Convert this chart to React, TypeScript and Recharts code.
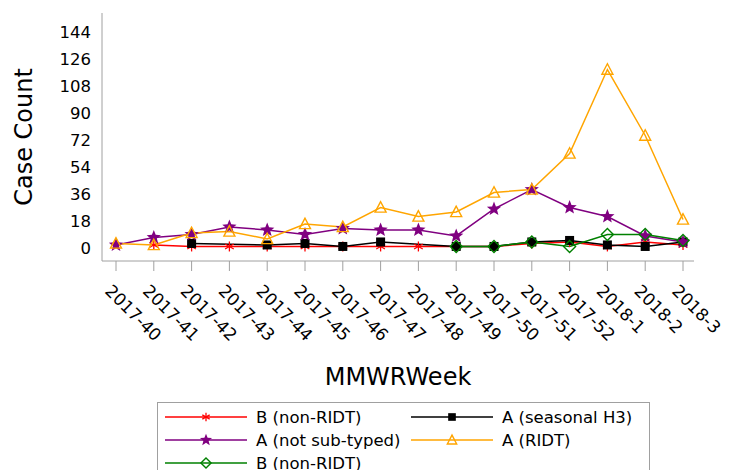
import { LineChart, Line, XAxis, YAxis } from 'recharts';

const weeks = [
  '2017-40', '2017-41', '2017-42', '2017-43', '2017-44', '2017-45', '2017-46', '2017-47',
  '2017-48', '2017-49', '2017-50', '2017-51', '2017-52', '2018-1', '2018-2', '2018-3',
];

// case counts per week
const bNonRidt = [null, 2, 1, 1, 1, 1, 1, 1, 1, 1, 1, 3, 4, 1, 4, 2];
const aSeasonalH3 = [null, null, 3, null, 2, 3, 1, 4, null, 1, 1, 4, 5, 2, 1, 4];
const aNotSubtyped = [2, 7, 9, 14, 12, 9, 13, 12, 12, 8, 26, 39, 27, 21, 8, 4];
const aRidt = [3, 2, 10, 11, 6, 16, 14, 27, 21, 24, 37, 39, 63, 119, 75, 19];
const bNonRidt2 = [null, null, null, null, null, null, null, null, null, 1, 1, 4, 1, 9, 9, 5];

const yTicks = [0, 18, 36, 54, 72, 90, 108, 126, 144];

const FONT = '"DejaVu Sans", sans-serif';
const FRAME = '#a0a0a0';

const series = [
  { key: 'bNonRidt', name: 'B (non-RIDT)', color: '#ff0000', marker: 'asterisk', values: bNonRidt },
  { key: 'aSeasonalH3', name: 'A (seasonal H3)', color: '#000000', marker: 'square', values: aSeasonalH3 },
  { key: 'aNotSubtyped', name: 'A (not sub-typed)', color: '#800080', marker: 'star', values: aNotSubtyped },
  { key: 'aRidt', name: 'A (RIDT)', color: '#ffa500', marker: 'triangle', values: aRidt },
  { key: 'bNonRidt2', name: 'B (non-RIDT)', color: '#008000', marker: 'diamond', values: bNonRidt2 },
];

const data = weeks.map((week, i) => {
  const row: Record<string, string | number | null> = { week };
  series.forEach((s) => {
    row[s.key] = s.values[i];
  });
  return row;
});

function starPoints(cx: number, cy: number, outer: number, inner: number) {
  const pts: string[] = [];
  for (let i = 0; i < 10; i++) {
    const r = i % 2 === 0 ? outer : inner;
    const a = -Math.PI / 2 + (i * Math.PI) / 5;
    pts.push(`${cx + r * Math.cos(a)},${cy + r * Math.sin(a)}`);
  }
  return pts.join(' ');
}

function marker(type: string, cx: number, cy: number, color: string, s = 1, key?: any) {
  switch (type) {
    case 'asterisk': {
      const r = 5 * s;
      const dx = r * Math.cos(Math.PI / 6);
      const dy = r * Math.sin(Math.PI / 6);
      return (
        <g key={key} stroke={color} strokeWidth={1.3}>
          <line x1={cx} y1={cy - r} x2={cx} y2={cy + r} />
          <line x1={cx - dx} y1={cy - dy} x2={cx + dx} y2={cy + dy} />
          <line x1={cx - dx} y1={cy + dy} x2={cx + dx} y2={cy - dy} />
        </g>
      );
    }
    case 'square': {
      const h = 4.5 * s;
      return <rect key={key} x={cx - h} y={cy - h} width={2 * h} height={2 * h} fill={color} />;
    }
    case 'star':
      return <polygon key={key} points={starPoints(cx, cy, 7.5 * s, 3.2 * s)} fill={color} />;
    case 'triangle': {
      const h = 5.5 * s;
      return (
        <polygon
          key={key}
          points={`${cx},${cy - h * 1.05} ${cx - h},${cy + h * 0.85} ${cx + h},${cy + h * 0.85}`}
          fill="none"
          stroke={color}
          strokeWidth={1.4}
        />
      );
    }
    case 'diamond': {
      const h = 6 * s;
      return (
        <polygon
          key={key}
          points={`${cx},${cy - h} ${cx + h},${cy} ${cx},${cy + h} ${cx - h},${cy}`}
          fill="none"
          stroke={color}
          strokeWidth={1.4}
        />
      );
    }
    default:
      return <g key={key} />;
  }
}

const WeekTick = (props: any) => {
  const { x, y, payload } = props;
  const ax = x - 12;
  const ay = y + 19;
  return (
    <text
      x={ax}
      y={ay}
      transform={`rotate(45, ${ax}, ${ay})`}
      textAnchor="start"
      fontSize={17}
      fontFamily={FONT}
      fill="#000"
    >
      {payload.value}
    </text>
  );
};

function Legend() {
  return (
    <div
      style={{
        position: 'absolute',
        left: 157,
        top: 402,
        width: 493,
        height: 90,
        border: `1px solid ${FRAME}`,
        boxSizing: 'border-box',
        fontFamily: FONT,
        fontSize: 16.5,
      }}
    >
      {series.map((s, i) => {
        const col = i % 2;
        const row = Math.floor(i / 2);
        return (
          <div
            key={s.key}
            style={{
              position: 'absolute',
              left: col === 0 ? 6 : 252,
              top: 3 + row * 23,
              height: 22,
              display: 'flex',
              alignItems: 'center',
              whiteSpace: 'nowrap',
            }}
          >
            <svg width={84} height={22} style={{ display: 'block' }}>
              <line x1={1} y1={11} x2={83} y2={11} stroke={s.color} strokeWidth={1.3} />
              {marker(s.marker, 42, 11, s.color, 0.85)}
            </svg>
            <span style={{ marginLeft: 8 }}>{s.name}</span>
          </div>
        );
      })}
    </div>
  );
}

export default function App() {
  return (
    <div
      style={{
        position: 'fixed',
        left: 0,
        top: 0,
        width: 733,
        height: 470,
        overflow: 'hidden',
        background: '#fff',
      }}
    >
      <LineChart
        width={733}
        height={490}
        data={data}
        margin={{ top: 13, right: 39, left: 0, bottom: 89 }}
      >
        <XAxis
          dataKey="week"
          interval={0}
          padding={{ left: 14, right: 11 }}
          height={140}
          tickSize={10}
          tickLine={{ stroke: FRAME }}
          axisLine={{ stroke: FRAME }}
          tick={<WeekTick />}
          label={(p: any) => {
            const vb = p.viewBox || { x: 102, width: 592 };
            return (
              <text
                x={vb.x + vb.width / 2}
                y={385}
                textAnchor="middle"
                fontSize={24}
                fontFamily={FONT}
                fill="#000"
              >
                MMWRWeek
              </text>
            );
          }}
        />
        <XAxis
          xAxisId="top"
          orientation="top"
          height={0}
          tick={false}
          tickLine={false}
          axisLine={{ stroke: FRAME }}
        />
        <YAxis
          width={102}
          domain={[-8.7, 156.7]}
          allowDataOverflow
          ticks={yTicks}
          tickSize={0}
          tickMargin={11}
          tickLine={false}
          axisLine={{ stroke: FRAME }}
          tick={{ fill: '#000', fontSize: 16.5, fontFamily: FONT }}
          label={(p: any) => {
            const vb = p.viewBox || { y: 13, height: 248 };
            const cy = vb.y + vb.height / 2;
            return (
              <text
                x={24}
                y={cy}
                transform={`rotate(-90, 24, ${cy})`}
                textAnchor="middle"
                dominantBaseline="central"
                fontSize={24}
                fontFamily={FONT}
                fill="#000"
              >
                Case Count
              </text>
            );
          }}
        />
        <YAxis
          yAxisId="right"
          orientation="right"
          width={0}
          tick={false}
          tickLine={false}
          axisLine={{ stroke: FRAME }}
        />
        {series.map((s) => (
          <Line
            key={s.key}
            type="linear"
            dataKey={s.key}
            name={s.name}
            stroke={s.color}
            strokeWidth={1.5}
            connectNulls
            isAnimationActive={false}
            activeDot={false}
            dot={(p: any) =>
              p.cx == null || p.cy == null || p.value == null
                ? <g key={`${s.key}-${p.index}`} />
                : marker(s.marker, p.cx, p.cy, s.color, 1, `${s.key}-${p.index}`)
            }
          />
        ))}
      </LineChart>
      <Legend />
    </div>
  );
}
